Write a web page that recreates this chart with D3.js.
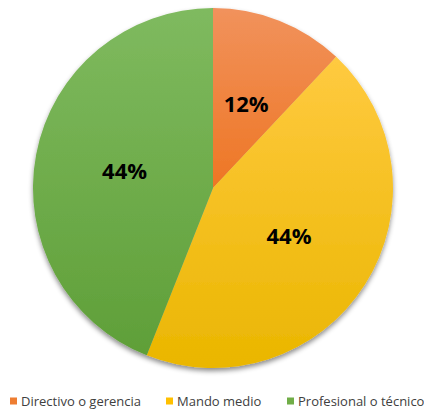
<!DOCTYPE html>
<html>
<head>
<meta charset="utf-8">
<script src="https://cdn.jsdelivr.net/npm/d3@7"></script>
<style>
  html, body { margin: 0; padding: 0; background: #ffffff; }
  svg { display: block; }
</style>
</head>
<body>
<svg id="chart" width="424" height="411"></svg>
<script>
// Share of respondents by position level
const categories = ["Directivo o gerencia", "Mando medio", "Profesional o técnico"];
const values = [12, 44, 44];
const topColors = ["#F1925C", "#FFCA40", "#7FBA5F"];
const bottomColors = ["#EE7624", "#EAB600", "#5F9F38"];
const swatchColors = ["#EE7D31", "#FFC000", "#70AD47"];

const width = 424, height = 411;
const cx = 213, cy = 188, radius = 180;

const svg = d3.select("#chart");
const defs = svg.append("defs");

// soft drop shadow under the pie
const shadow = defs.append("filter")
  .attr("id", "pieShadow")
  .attr("x", "-20%").attr("y", "-20%")
  .attr("width", "140%").attr("height", "140%");
shadow.append("feDropShadow")
  .attr("dx", 0).attr("dy", 3)
  .attr("stdDeviation", 2.5)
  .attr("flood-color", "#000")
  .attr("flood-opacity", 0.45);

// vertical gradient per slice, over each slice's own box
categories.forEach((c, i) => {
  const g = defs.append("linearGradient")
    .attr("id", "grad" + i)
    .attr("x1", 0).attr("y1", 0)
    .attr("x2", 0).attr("y2", 1);
  g.append("stop").attr("offset", "0%").attr("stop-color", topColors[i]);
  g.append("stop").attr("offset", "100%").attr("stop-color", bottomColors[i]);
});

const pie = d3.pie().sort(null).value(d => d)(values);
const arc = d3.arc().innerRadius(0).outerRadius(radius);

const gPie = svg.append("g")
  .attr("transform", `translate(${cx},${cy})`)
  .attr("filter", "url(#pieShadow)");

gPie.selectAll("path")
  .data(pie)
  .join("path")
  .attr("d", arc)
  .attr("fill", (d, i) => `url(#grad${i})`);

const gLabels = svg.append("g")
  .attr("transform", `translate(${cx},${cy})`);

gLabels.selectAll("text")
  .data(pie)
  .join("text")
  .attr("transform", d => {
    const [x, y] = arc.centroid(d);
    return `translate(${x},${y})`;
  })
  .attr("text-anchor", "middle")
  .attr("dy", "0.36em")
  .attr("font-family", "'Open Sans', sans-serif")
  .attr("font-weight", "bold")
  .attr("font-size", 22)
  .attr("fill", "#000")
  .text(d => d.data + "%");

// legend along the bottom
const legendX = [10, 166, 287];
const legend = svg.append("g")
  .attr("transform", `translate(0,401)`);

const items = legend.selectAll("g")
  .data(categories)
  .join("g")
  .attr("transform", (d, i) => `translate(${legendX[i]},0)`);

items.append("rect")
  .attr("x", 0).attr("y", -3.5)
  .attr("width", 7).attr("height", 7)
  .attr("fill", (d, i) => swatchColors[i]);

items.append("text")
  .attr("x", 11)
  .attr("dy", "0.35em")
  .attr("font-family", "'Open Sans', sans-serif")
  .attr("font-size", 13)
  .attr("fill", "#404040")
  .text(d => d);
</script>
</body>
</html>
